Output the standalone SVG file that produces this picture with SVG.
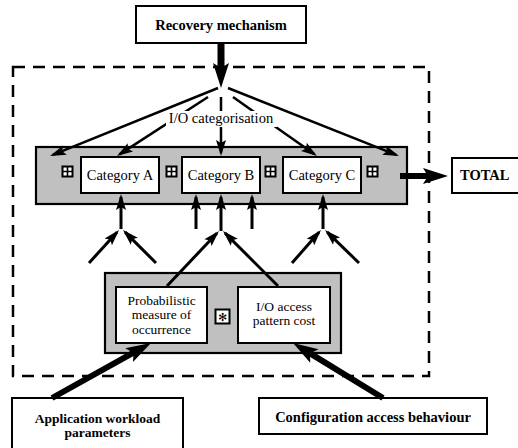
<svg xmlns="http://www.w3.org/2000/svg" width="518" height="448" viewBox="0 0 518 448">
<style>
text{font-family:"Liberation Serif","Times New Roman",serif;font-size:14.5px;fill:#000}
.b{font-weight:bold}
.ml{font-size:13.5px}
.box{fill:#fff;stroke:#000;stroke-width:2}
.grey{fill:#c0c0c0;stroke:#000;stroke-width:2.2}
.thin{stroke:#000;stroke-width:2.5;fill:none;marker-end:url(#ah)}
.mid{stroke:#000;stroke-width:3;fill:none;marker-end:url(#ah)}
.thick{stroke:#000;stroke-width:6;fill:none;marker-end:url(#big)}
.pl{fill:#fff;stroke:#000;stroke-width:2}
.pll{stroke:#000;stroke-width:1.6}
</style>
<defs>
<marker id="ah" markerUnits="userSpaceOnUse" markerWidth="16" markerHeight="10" refX="13" refY="5" orient="auto" overflow="visible">
<path d="M0,0 L16,5 L0,10 L3,5 z" fill="#000"/>
</marker>
<marker id="big" markerUnits="userSpaceOnUse" markerWidth="25" markerHeight="16" refX="5" refY="8" orient="auto" overflow="visible">
<path d="M0,0 L25,8 L0,16 L5,8 z" fill="#000"/>
</marker>
</defs>
<rect x="0" y="0" width="518" height="448" fill="#fff"/>
<rect id="boundary" x="13" y="67" width="416" height="309" fill="none" stroke="#000" stroke-width="2.5" stroke-dasharray="12 8"/>

<g id="recovery">
<rect class="box" x="136" y="6" width="170" height="37"/>
<text class="b" x="221" y="30" text-anchor="middle">Recovery mechanism</text>
</g>

<g id="categories">
<rect class="grey" x="36" y="147" width="371" height="57"/>
<g id="plus1"><rect class="pl" x="62.5" y="166.5" width="10" height="10"/><path class="pll" d="M67.5,166.5V176.5M62.5,171.5H72.5"/></g>
<g id="catA"><rect class="box" x="81" y="157" width="78" height="36"/><text x="120" y="180" text-anchor="middle">Category A</text></g>
<g id="plus2"><rect class="pl" x="166.5" y="166.5" width="10" height="10"/><path class="pll" d="M171.5,166.5V176.5M166.5,171.5H176.5"/></g>
<g id="catB"><rect class="box" x="182" y="157" width="78" height="36"/><text x="221" y="180" text-anchor="middle">Category B</text></g>
<g id="plus3"><rect class="pl" x="265.5" y="166.5" width="10" height="10"/><path class="pll" d="M270.5,166.5V176.5M265.5,171.5H275.5"/></g>
<g id="catC"><rect class="box" x="283" y="157" width="78" height="36"/><text x="322" y="180" text-anchor="middle">Category C</text></g>
<g id="plus4"><rect class="pl" x="367.5" y="166.5" width="10" height="10"/><path class="pll" d="M372.5,166.5V176.5M367.5,171.5H377.5"/></g>
</g>

<g id="total">
<rect class="box" x="452" y="158" width="80" height="35"/>
<text class="b" x="460" y="180">TOTAL</text>
</g>

<g id="product">
<rect class="grey" x="105" y="273" width="236" height="80"/>
<g id="prob"><rect class="box" x="116" y="287" width="91" height="56"/>
<text class="ml" x="161.5" y="305" text-anchor="middle">Probabilistic</text>
<text class="ml" x="161.5" y="319" text-anchor="middle">measure of</text>
<text class="ml" x="161.5" y="333.5" text-anchor="middle">occurrence</text></g>
<g id="star"><rect class="pl" x="215.5" y="309.5" width="14" height="14"/>
<text x="222.5" y="320.5" text-anchor="middle" style="font-family:'DejaVu Sans',sans-serif;font-size:11px">✻</text></g>
<g id="cost"><rect class="box" x="238" y="287" width="92" height="56"/>
<text class="ml" x="284" y="311" text-anchor="middle">I/O access</text>
<text class="ml" x="284" y="325" text-anchor="middle">pattern cost</text></g>
</g>

<g id="workload">
<rect class="box" x="12" y="398" width="171" height="52"/>
<text class="b ml" x="97.5" y="423" text-anchor="middle">Application workload</text>
<text class="b ml" x="97.5" y="437" text-anchor="middle">parameters</text>
</g>

<g id="config">
<rect class="box" x="259" y="398" width="228" height="36"/>
<text class="b" x="373" y="422" text-anchor="middle">Configuration access behaviour</text>
</g>

<g id="connectors">
<line x1="221" y1="43" x2="221" y2="68" stroke="#000" stroke-width="7" marker-end="url(#big)"/>
<line class="thin" x1="218" y1="88" x2="52.8" y2="154.9"/>
<line class="thin" x1="208" y1="97" x2="119.5" y2="154.4"/>
<line class="thin" x1="221" y1="97" x2="221" y2="153"/>
<line class="thin" x1="233" y1="97" x2="314.5" y2="154.3"/>
<line class="thin" x1="228" y1="88" x2="396.2" y2="154.9"/>
<line class="thick" x1="400" y1="176" x2="428" y2="176"/>
<line class="mid" x1="121" y1="229" x2="121" y2="197"/>
<line class="mid" x1="221" y1="231" x2="221" y2="197"/>
<line class="mid" x1="196" y1="229" x2="196" y2="197"/>
<line class="mid" x1="252" y1="229" x2="252" y2="197"/>
<line class="mid" x1="323" y1="229" x2="323" y2="197"/>
<line class="mid" x1="89" y1="263" x2="117" y2="232.2"/>
<line class="mid" x1="156" y1="263" x2="125.1" y2="232.1"/>
<line class="mid" x1="292" y1="263" x2="319" y2="232.3"/>
<line class="mid" x1="359" y1="263" x2="327.2" y2="232.1"/>
<line class="mid" x1="167" y1="286" x2="216.9" y2="233.2"/>
<line class="mid" x1="278" y1="286" x2="225.1" y2="233.1"/>
<line class="thick" x1="52" y1="398" x2="133.5" y2="352.7"/>
<line class="thick" x1="383" y1="398" x2="310.1" y2="353.4"/>
</g>

<g id="label">
<rect x="166" y="111" width="111" height="16" fill="#fff"/>
<text x="221" y="123" text-anchor="middle">I/O categorisation</text>
</g>
</svg>
